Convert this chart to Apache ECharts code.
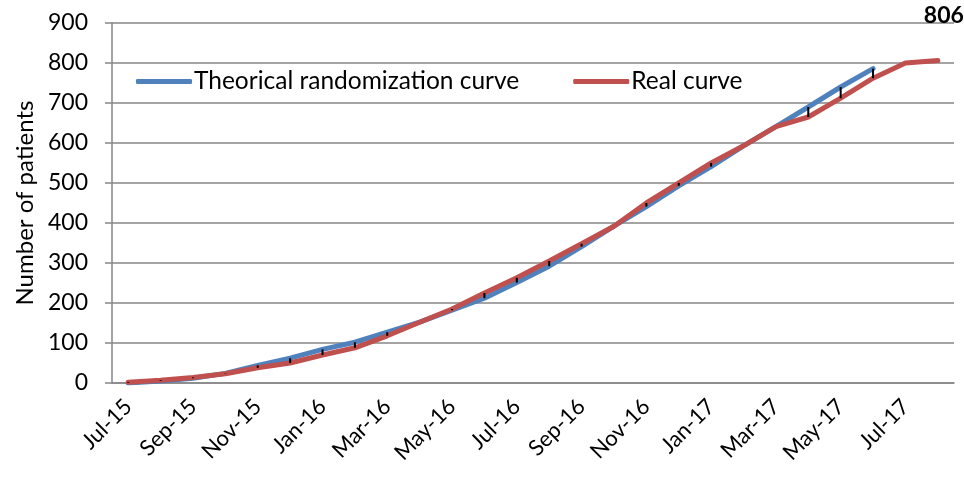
<!DOCTYPE html>
<html>
<head>
<meta charset="utf-8">
<script src="https://cdn.jsdelivr.net/npm/echarts@6/dist/echarts.min.js"></script>
<style>html,body{margin:0;padding:0;background:#fff;}#c{width:964px;height:478px;}</style>
</head>
<body>
<div id="c"></div>
<script>
var months = ['Jul-15','Aug-15','Sep-15','Oct-15','Nov-15','Dec-15','Jan-16','Feb-16','Mar-16','Apr-16','May-16','Jun-16','Jul-16','Aug-16','Sep-16','Oct-16','Nov-16','Dec-16','Jan-17','Feb-17','Mar-17','Apr-17','May-17','Jun-17','Jul-17','Aug-17'];
var theoretical = [0,5,12,24,44,62,84,102,127,152,182,212,251,292,341,392,441,493,541,593,641,690,740,786];
var real = [2,7,14,23,38,50,70,88,118,152,185,225,263,305,348,392,450,500,550,593,641,665,712,762,800,806];
var yTicks = {min:0, max:900, interval:100};

var font = 'Lato, "Open Sans", sans-serif';
var chart = echarts.init(document.getElementById('c'));
var realData = real.map(function(v,i){
  if (i === real.length-1) {
    return {value:v, symbol:'circle', symbolSize:1, itemStyle:{color:'rgba(0,0,0,0)'},
      label:{show:true, position:'top', offset:[6,-28], formatter:'{c}', fontWeight:'bold', fontSize:23, color:'#000', fontFamily:font}};
  }
  return {value:v, symbol:'none'};
});
chart.setOption({
  animation:false,
  grid:{left:112, right:10, top:23, bottom:95},
  legend:{
    left:136, top:69, padding:0, itemGap:54, itemWidth:56, itemHeight:5,
    icon:'roundRect',
    textStyle:{fontFamily:font, fontSize:24.5, color:'#000', padding:[0,0,0,-3]},
    data:['Theorical randomization curve','Real curve']
  },
  xAxis:{
    type:'category', data:months, boundaryGap:true,
    axisLine:{lineStyle:{color:'#868686', width:1.5}},
    axisTick:{show:false},
    axisLabel:{interval:1, rotate:45, fontFamily:font, fontSize:22, color:'#000', margin:20}
  },
  yAxis:{
    type:'value', min:yTicks.min, max:yTicks.max, interval:yTicks.interval,
    name:'Number of patients', nameLocation:'middle', nameGap:74,
    nameTextStyle:{fontFamily:font, fontSize:24, color:'#000'},
    axisLine:{show:true, lineStyle:{color:'#868686', width:1.5}},
    axisTick:{show:true, length:7, lineStyle:{color:'#868686', width:1.5}},
    splitLine:{lineStyle:{color:'#868686', width:1.5}},
    axisLabel:{fontFamily:font, fontSize:23, color:'#000', margin:24}
  },
  series:[
    {name:'Theorical randomization curve', type:'line', data:theoretical, symbol:'none',
     lineStyle:{color:'#4F81BD', width:5, cap:'round'}, itemStyle:{color:'#4F81BD'}, z:2},
    {name:'Real curve', type:'line', data:realData, showSymbol:true,
     lineStyle:{color:'#C0504D', width:5, cap:'round'}, itemStyle:{color:'#C0504D'}, z:3},
    {name:'hilo', type:'custom', z:4,
     data:theoretical.map(function(v,i){return [i, v, real[i]];}),
     encode:{x:0, y:[1,2]},
     renderItem:function(params, api){
       var a = api.coord([api.value(0), api.value(1)]);
       var b = api.coord([api.value(0), api.value(2)]);
       return {type:'line', shape:{x1:a[0], y1:a[1], x2:b[0], y2:b[1]}, style:{stroke:'#000', lineWidth:2}};
     }}
  ]
});
</script>
</body>
</html>
